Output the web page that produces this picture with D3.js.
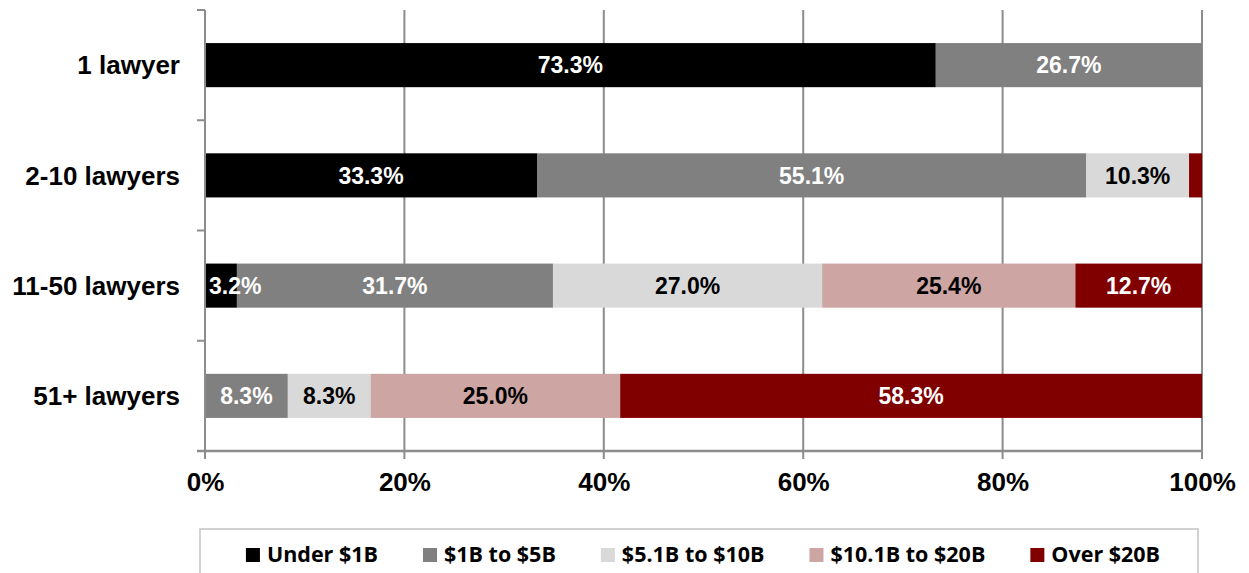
<!DOCTYPE html>
<html>
<head>
<meta charset="utf-8">
<script src="https://cdn.jsdelivr.net/npm/d3@7"></script>
<style>
  html, body { margin: 0; padding: 0; background: #fff; }
  svg { display: block; }
</style>
</head>
<body>
<svg id="chart" width="1249" height="573"></svg>
<script>
// Firm size categories (rows) and revenue bands (stacked segments), in percent
const categories = ["1 lawyer", "2-10 lawyers", "11-50 lawyers", "51+ lawyers"];
const seriesNames = ["Under $1B", "$1B to $5B", "$5.1B to $10B", "$10.1B to $20B", "Over $20B"];
const under1B   = [73.3, 33.3, 3.2, 0];
const b1to5     = [26.7, 55.1, 31.7, 8.3];
const b5to10    = [0, 10.3, 27.0, 8.3];
const b10to20   = [0, 0, 25.4, 25.0];
const over20B   = [0, 1.3, 12.7, 58.3];
const tickValues = [0, 20, 40, 60, 80, 100];

const seriesValues = [under1B, b1to5, b5to10, b10to20, over20B];
const colors = ["#000000", "#808080", "#d9d9d9", "#cda5a3", "#800000"];
const labelColors = ["#ffffff", "#ffffff", "#000000", "#000000", "#ffffff"];
const minLabelled = 2; // segments narrower than this (in %) carry no label

const svg = d3.select("#chart");
const plot = { left: 205, right: 1202, top: 10, bottom: 451 };

const x = d3.scaleLinear().domain([0, 100]).range([plot.left, plot.right]);
const y = d3.scaleBand().domain(categories).range([plot.top, plot.bottom])
  .paddingInner(0.6).paddingOuter(0.3);

const gridColor = "#8c8c8c";

// vertical gridlines (with their tick stubs below the axis)
svg.append("g").selectAll("line").data(tickValues.slice(1)).join("line")
  .attr("x1", d => x(d)).attr("x2", d => x(d))
  .attr("y1", plot.top).attr("y2", plot.bottom + 8)
  .attr("stroke", gridColor).attr("stroke-width", 2);

// build a 100% stacked table
const rows = categories.map((c, i) => {
  const r = { cat: c };
  seriesNames.forEach((s, j) => r[s] = seriesValues[j][i]);
  return r;
});
const stacked = d3.stack().keys(seriesNames).offset(d3.stackOffsetExpand)(rows);

const labelFont = "bold 23px 'Liberation Sans', Arial, sans-serif";

stacked.forEach((layer, j) => {
  svg.append("g").selectAll("rect").data(layer).join("rect")
    .attr("x", d => x(d[0] * 100))
    .attr("y", d => y(d.data.cat))
    .attr("width", d => x(d[1] * 100) - x(d[0] * 100))
    .attr("height", y.bandwidth())
    .attr("fill", colors[j]);
});

// value labels
const canvas = document.createElement("canvas").getContext("2d");
canvas.font = labelFont;
stacked.forEach((layer, j) => {
  layer.forEach(d => {
    const v = d.data[seriesNames[j]];
    if (v < minLabelled) return;
    const txt = v.toFixed(1) + "%";
    const w = canvas.measureText(txt).width;
    let cx = (x(d[0] * 100) + x(d[1] * 100)) / 2;
    cx = Math.max(cx, plot.left + 4 + w / 2);
    svg.append("text")
      .attr("x", cx)
      .attr("y", y(d.data.cat) + y.bandwidth() / 2)
      .attr("dy", "0.36em")
      .attr("text-anchor", "middle")
      .style("font", labelFont)
      .attr("fill", labelColors[j])
      .text(txt);
  });
});

// category axis line and its ticks at band boundaries
const step = (plot.bottom - plot.top) / categories.length;
svg.append("line")
  .attr("x1", plot.left).attr("x2", plot.left)
  .attr("y1", plot.top).attr("y2", plot.bottom + 8)
  .attr("stroke", gridColor).attr("stroke-width", 2);
svg.append("g").selectAll("line").data(d3.range(categories.length + 1)).join("line")
  .attr("x1", plot.left - 8).attr("x2", plot.left)
  .attr("y1", i => plot.top + i * step).attr("y2", i => plot.top + i * step)
  .attr("stroke", gridColor).attr("stroke-width", 2);

// value axis
svg.append("line")
  .attr("x1", plot.left - 8).attr("x2", plot.right)
  .attr("y1", plot.bottom).attr("y2", plot.bottom)
  .attr("stroke", gridColor).attr("stroke-width", 2.5);

const xAxis = d3.axisBottom(x).tickValues(tickValues).tickFormat(d => d + "%").tickSize(0).tickPadding(0);
const xg = svg.append("g").attr("transform", `translate(0,${plot.bottom})`).call(xAxis);
xg.select(".domain").remove();
xg.selectAll("text")
  .attr("y", 40).attr("dy", 0)
  .style("font", "bold 26px 'Liberation Sans', Arial, sans-serif")
  .attr("fill", "#000");

// category labels
svg.append("g").selectAll("text").data(categories).join("text")
  .attr("x", 180)
  .attr("y", d => y(d) + y.bandwidth() / 2)
  .attr("dy", "0.36em")
  .attr("text-anchor", "end")
  .style("font", "bold 26px 'Liberation Sans', Arial, sans-serif")
  .attr("fill", "#000")
  .text(d => d);

// legend
svg.append("rect")
  .attr("x", 200).attr("y", 529).attr("width", 998).attr("height", 60)
  .attr("fill", "#fff").attr("stroke", "#c4c4c4").attr("stroke-width", 1.5);

const legendFont = "bold 21.5px 'Open Sans', sans-serif";
canvas.font = legendFont;
const marker = 14, markerGap = 7, itemGap = 45;
const widths = seriesNames.map(s => canvas.measureText(s).width);
const total = d3.sum(widths) + seriesNames.length * (marker + markerGap) + (seriesNames.length - 1) * itemGap;
let lx = 200 + (998 - total) / 2 + 4;
const legend = svg.append("g");
seriesNames.forEach((s, j) => {
  legend.append("rect")
    .attr("x", lx).attr("y", 548).attr("width", marker).attr("height", marker)
    .attr("fill", colors[j]);
  legend.append("text")
    .attr("x", lx + marker + markerGap).attr("y", 562)
    .style("font", legendFont).attr("fill", "#000")
    .text(s);
  lx += marker + markerGap + widths[j] + itemGap;
});
</script>
</body>
</html>
